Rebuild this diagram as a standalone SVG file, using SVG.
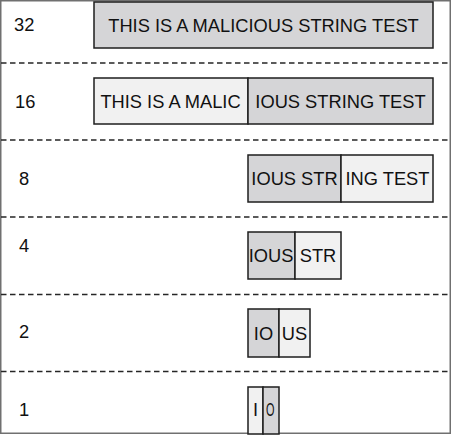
<svg xmlns="http://www.w3.org/2000/svg" width="452" height="435" viewBox="0 0 452 435">
<style>
.frame{fill:#ffffff;stroke:#707070;stroke-width:1.5}
.sep{stroke:#262626;stroke-width:1.5;stroke-dasharray:5.5 3.5;fill:none}
.dark{fill:#d5d5d7;stroke:#1e1e1e;stroke-width:1.5}
.light{fill:#f1f1f1;stroke:#1e1e1e;stroke-width:1.5}
text{font-family:"Liberation Sans",Arial,sans-serif;font-size:18.3px;fill:#111111}
.mid{text-anchor:middle}
</style>
<rect class="frame" x="0.75" y="0.75" width="449.5" height="432.5"/>
<g id="connectors">
<line class="sep" x1="1" y1="63" x2="450" y2="63"/>
<line class="sep" x1="1" y1="140" x2="450" y2="140"/>
<line class="sep" x1="1" y1="217" x2="450" y2="217"/>
<line class="sep" x1="1" y1="294.5" x2="450" y2="294.5"/>
<line class="sep" x1="1" y1="371.5" x2="450" y2="371.5"/>
</g>
<g id="labels">
<text x="14" y="31">32</text>
<text x="15" y="108">16</text>
<text x="19" y="185">8</text>
<text x="19" y="252">4</text>
<text x="19" y="338">2</text>
<text x="19" y="416">1</text>
</g>
<g id="row32">
<rect class="dark" x="94" y="2" width="339" height="46"/>
<text class="mid" x="263.5" y="31.5">THIS IS A MALICIOUS STRING TEST</text>
</g>
<g id="row16">
<rect class="light" x="94" y="78" width="154" height="46"/>
<rect class="dark" x="248" y="78" width="185" height="46"/>
<text class="mid" x="170.5" y="107.5">THIS IS A MALIC</text>
<text class="mid" x="340.5" y="107.5">IOUS STRING TEST</text>
</g>
<g id="row8">
<rect class="dark" x="248" y="155" width="93" height="47"/>
<rect class="light" x="341" y="155" width="92" height="47"/>
<text class="mid" x="294.5" y="185">IOUS STR</text>
<text class="mid" x="387.5" y="185">ING TEST</text>
</g>
<g id="row4">
<rect class="dark" x="248" y="232" width="47" height="47"/>
<rect class="light" x="295" y="232" width="46" height="47"/>
<text class="mid" x="271" y="262">IOUS</text>
<text class="mid" x="318" y="262">STR</text>
</g>
<g id="row2">
<rect class="dark" x="248" y="309" width="31" height="48"/>
<rect class="light" x="279" y="309" width="31" height="48"/>
<text class="mid" x="263.5" y="340">IO</text>
<text class="mid" x="294.5" y="340">US</text>
</g>
<g id="row1">
<rect class="light" x="248" y="387" width="15" height="47"/>
<rect class="dark" x="263" y="387" width="16" height="47"/>
<text class="mid" x="255.5" y="416">I</text>
<text x="266" y="416" textLength="8.5" lengthAdjust="spacingAndGlyphs">O</text>
</g>
</svg>
